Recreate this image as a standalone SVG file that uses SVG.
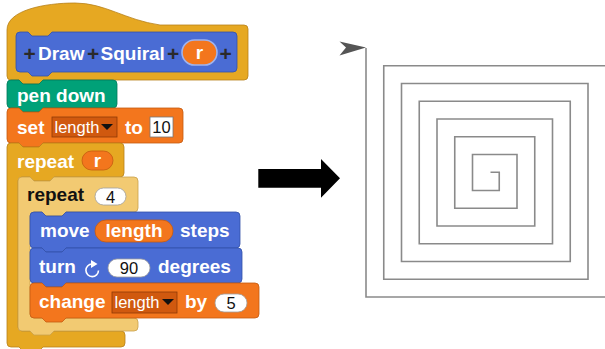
<svg xmlns="http://www.w3.org/2000/svg" width="605" height="349" viewBox="0 0 605 349">
  <style>
    .lbl { font-family: "Liberation Sans", Arial, sans-serif; font-weight: bold; font-size: 19px; fill: #ffffff; }
    .dark { fill: #111111; }
    .plus { fill: #2a2a2a; font-size: 21px; }
    .val { font-family: "Liberation Sans", Arial, sans-serif; font-size: 16.5px; fill: #111111; }
    .menu { font-family: "Liberation Sans", Arial, sans-serif; font-size: 16.5px; fill: #ffffff; }
    .control { fill: #e6a822; stroke: #b8821a; stroke-width: 0.8; }
    .zebra { fill: #f2ca72; stroke: #c9a14c; stroke-width: 0.8; }
    .motion { fill: #4a6cd4; stroke: #3250a8; stroke-width: 0.8; }
    .pen { fill: #00a178; stroke: #007a5a; stroke-width: 0.8; }
    .vars { fill: #f3761d; stroke: #c45a10; stroke-width: 0.8; }
    .slot { fill: #ffffff; stroke: #a0a0a0; stroke-width: 0.8; }
    .dd { fill: #d0590f; stroke: #8e3a05; stroke-width: 0.8; }
    .trace { fill: none; stroke: #8a8a8a; stroke-width: 1.6; stroke-linejoin: miter; }
  </style>

  <!-- hat block: custom block definition -->
  <g id="hat-definition">
    <path class="control" d="M 7,30 C 7,10 45,3 75,3 C 105,3 125,20 160,25 H 244 Q 248,25 248,29 V 76 Q 248,80 244,80 H 43 L 39,84 H 23 L 19,80 H 11 Q 7,80 7,76 Z"/>
    <path class="motion" d="M 16,36 Q 16,32 20,32 H 28 L 32,36 H 48 L 52,32 H 233 Q 237,32 237,36 V 68 Q 237,72 233,72 H 52 L 48,76 H 32 L 28,72 H 20 Q 16,72 16,68 Z"/>
    <text class="lbl plus" x="23.5" y="61">+</text>
    <text class="lbl" x="38" y="60">Draw</text>
    <text class="lbl plus" x="87" y="61">+</text>
    <text class="lbl" x="100.5" y="60">Squiral</text>
    <text class="lbl plus" x="167" y="61">+</text>
    <rect x="182" y="40" width="35" height="25" rx="12.5" fill="#f3761d" stroke="#9fb3ee" stroke-width="1.6"/>
    <text class="lbl" x="199.5" y="59" text-anchor="middle">r</text>
    <text class="lbl plus" x="219.5" y="61">+</text>
  </g>

  <!-- pen down -->
  <g id="pen-down">
    <path class="pen" d="M 7,84 Q 7,80 11,80 H 19 L 23,84 H 39 L 43,80 H 113 Q 117,80 117,84 V 104 Q 117,108 113,108 H 43 L 39,112 H 23 L 19,108 H 11 Q 7,108 7,104 Z"/>
    <text class="lbl" x="17" y="102">pen down</text>
  </g>

  <!-- set length to 10 -->
  <g id="set-length">
    <path class="vars" d="M 7,112 Q 7,108 11,108 H 19 L 23,112 H 39 L 43,108 H 179 Q 183,108 183,112 V 139 Q 183,143 179,143 H 43 L 39,147 H 23 L 19,143 H 11 Q 7,143 7,139 Z"/>
    <text class="lbl" x="17" y="134">set</text>
    <rect class="dd" x="52" y="117" width="65" height="20"/>
    <text class="menu" x="54.5" y="133">length</text>
    <polygon points="101,124 113,124 107,130" fill="#111"/>
    <text class="lbl" x="125" y="134">to</text>
    <rect x="150" y="117" width="23" height="20" fill="#fff" stroke="#777" stroke-width="0.8"/>
    <text class="val" x="161.5" y="133" text-anchor="middle">10</text>
  </g>

  <!-- repeat r (outer C block) -->
  <g id="repeat-r">
    <path class="control" d="M 7,147 Q 7,143 11,143 H 19 L 23,147 H 39 L 43,143 H 120 Q 124,143 124,147 V 173 Q 124,177 120,177 H 54 L 50,181 H 34 L 30,177 H 22 Q 18,177 18,181 V 327 Q 18,331 22,331 H 121 Q 125,331 125,335 V 343 Q 125,347 121,347 H 43 L 39,351 H 23 L 19,347 H 11 Q 7,347 7,343 Z"/>
    <text class="lbl" x="17" y="168">repeat</text>
    <rect class="vars" x="82" y="151" width="31" height="19" rx="9.5"/>
    <text class="lbl" x="97.5" y="166.5" text-anchor="middle">r</text>
  </g>

  <!-- repeat 4 (inner C block) -->
  <g id="repeat-4">
    <path class="zebra" d="M 18,181 Q 18,177 22,177 H 30 L 34,181 H 50 L 54,177 H 134 Q 138,177 138,181 V 208 Q 138,212 134,212 H 66 L 62,216 H 46 L 42,212 H 34 Q 30,212 30,216 V 314 Q 30,318 34,318 H 134 Q 138,318 138,322 V 327 Q 138,331 134,331 H 54 L 50,335 H 34 L 30,331 H 22 Q 18,331 18,327 Z"/>
    <text class="lbl dark" x="27" y="201">repeat</text>
    <rect class="slot" x="95" y="188" width="31" height="17" rx="8.5"/>
    <text class="val" x="110.5" y="202.5" text-anchor="middle">4</text>
  </g>

  <!-- move (length) steps -->
  <g id="move">
    <path class="motion" d="M 30,216 Q 30,212 34,212 H 42 L 46,216 H 62 L 66,212 H 236 Q 240,212 240,216 V 244 Q 240,248 236,248 H 66 L 62,252 H 46 L 42,248 H 34 Q 30,248 30,244 Z"/>
    <text class="lbl" x="40" y="237">move</text>
    <rect class="vars" x="95" y="220" width="78" height="22" rx="11"/>
    <text class="lbl" x="134" y="237" text-anchor="middle">length</text>
    <text class="lbl" x="180" y="237">steps</text>
  </g>

  <!-- turn clockwise 90 degrees -->
  <g id="turn">
    <path class="motion" d="M 30,252 Q 30,248 34,248 H 42 L 46,252 H 62 L 66,248 H 238 Q 242,248 242,252 V 279 Q 242,283 238,283 H 66 L 62,287 H 46 L 42,283 H 34 Q 30,283 30,279 Z"/>
    <text class="lbl" x="39" y="273">turn</text>
    <path d="M 98.5,270.5 A 6.3,6.3 0 1 1 92,264" fill="none" stroke="#fff" stroke-width="1.6"/>
    <polygon points="91,260 97.5,264 91,268" fill="#fff"/>
    <rect class="slot" x="108" y="259" width="42" height="18" rx="9"/>
    <text class="val" x="129" y="274" text-anchor="middle">90</text>
    <text class="lbl" x="158" y="273">degrees</text>
  </g>

  <!-- change length by 5 -->
  <g id="change-length">
    <path class="vars" d="M 30,287 Q 30,283 34,283 H 42 L 46,287 H 62 L 66,283 H 255 Q 259,283 259,287 V 314 Q 259,318 255,318 H 66 L 62,322 H 46 L 42,318 H 34 Q 30,318 30,314 Z"/>
    <text class="lbl" x="39" y="308">change</text>
    <rect class="dd" x="112" y="292" width="65" height="21"/>
    <text class="menu" x="114.5" y="308">length</text>
    <polygon points="162,299 174,299 168,305" fill="#111"/>
    <text class="lbl" x="185" y="308">by</text>
    <rect class="slot" x="215" y="294" width="32" height="18" rx="9"/>
    <text class="val" x="231" y="309" text-anchor="middle">5</text>
  </g>

  <!-- big arrow from script to result -->
  <g id="connectors">
    <polygon points="258.3,169 321,169 321,159 340,178.3 321,197.7 321,187.7 258.3,187.7" fill="#000"/>
  </g>

  <!-- pen trace of the square spiral -->
  <g id="stage">
    <path class="trace" d="M 490.5,172.25 H 499.25 V 190.5 H 472.5 V 154.5 H 517 V 208.25 H 454.75 V 136.75 H 534.75 V 226 H 437 V 119 H 552.5 V 243.75 H 419.25 V 101.25 H 570.25 V 261.5 H 401.5 V 83.5 H 588 V 279.25 H 383.75 V 65.75 H 610 M 610,297 H 366 V 48"/>
    <!-- turtle sprite heading right -->
    <polygon points="366,47.5 339.5,41.5 346,47.5 339.5,55.5" fill="#555"/>
  </g>
</svg>
